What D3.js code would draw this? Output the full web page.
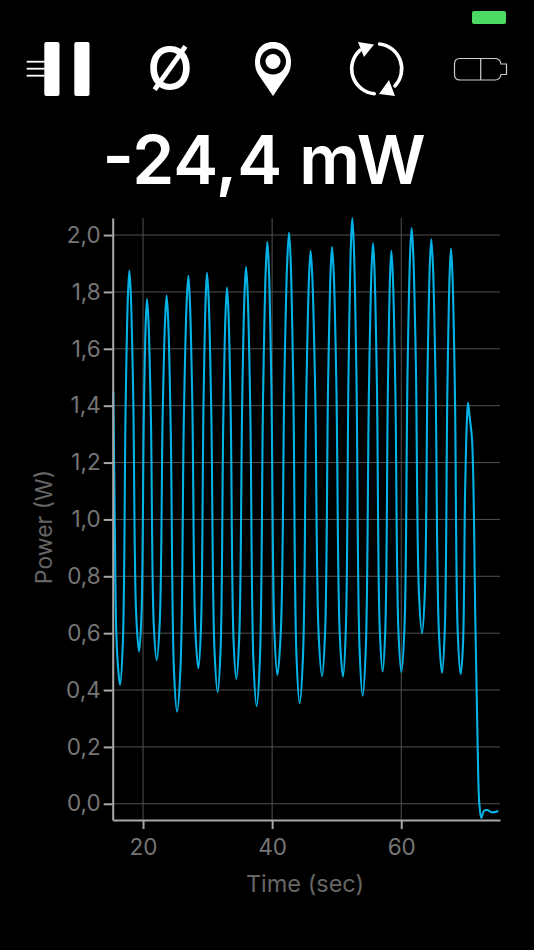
<!DOCTYPE html>
<html>
<head>
<meta charset="utf-8">
<script src="https://cdn.jsdelivr.net/npm/d3@7"></script>
<style>
  html, body { margin: 0; background: #000; overflow: hidden; }
  svg { display: block; font-family: Inter, Roboto, sans-serif; }
</style>
</head>
<body>
<svg id="chart" width="534" height="950"></svg>
<script>
// values
const readout = "-24,4 mW";
const xLabel = "Time (sec)";
const yLabel = "Power (W)";
const xTicks = [20, 40, 60];
const yTicks = [0, 0.2, 0.4, 0.6, 0.8, 1.0, 1.2, 1.4, 1.6, 1.8, 2.0];

const timeSec = [
  15.4, 15.62, 15.86, 16.2, 16.44, 16.87, 17.30, 17.66, 17.88, 18.10, 18.48, 18.93,
  19.38, 19.75, 20.12, 20.43, 20.62, 20.84, 21.22, 21.66, 22.11, 22.58, 23.04, 23.43,
  23.66, 23.90, 24.30, 24.79, 25.27, 25.80, 26.32, 26.76, 27.02, 27.25, 27.64, 28.10,
  28.57, 28.97, 29.37, 29.71, 29.91, 30.16, 30.57, 31.07, 31.56, 32.00, 32.43, 32.79,
  33.01, 33.23, 33.59, 34.02, 34.45, 34.90, 35.36, 35.73, 35.96, 36.21, 36.62, 37.11,
  37.60, 38.10, 38.60, 39.01, 39.26, 39.49, 39.88, 40.35, 40.81, 41.35, 41.90, 42.35,
  42.62, 42.87, 43.28, 43.77, 44.26, 44.77, 45.28, 45.71, 45.96, 46.22, 46.67, 47.20,
  47.73, 48.20, 48.66, 49.05, 49.28, 49.54, 49.96, 50.47, 50.98, 51.41, 51.84, 52.20,
  52.42, 52.66, 53.06, 53.54, 54.02, 54.50, 54.99, 55.39, 55.63, 55.85, 56.23, 56.67,
  57.12, 57.53, 57.93, 58.27, 58.47, 58.70, 59.09, 59.56, 60.02, 60.50, 60.97, 61.37,
  61.61, 61.85, 62.26, 62.74, 63.22, 63.65, 64.08, 64.44, 64.66, 64.91, 65.32, 65.82,
  66.32, 66.74, 67.15, 67.50, 67.71, 67.93, 68.31, 68.75, 69.20, 69.55, 69.89, 70.18,
  70.35, 70.60, 70.97, 71.48, 71.84, 72.10, 72.41, 72.80, 73.29, 74.07, 75.04
];

const powerW = [
  1.45, 1.00, 0.60, 0.46, 0.418, 0.564, 1.394, 1.788, 1.875, 1.795, 1.433, 0.669,
  0.535, 0.659, 1.366, 1.701, 1.775, 1.699, 1.356, 0.632, 0.505, 0.633, 1.364, 1.710,
  1.787, 1.699, 1.304, 0.470, 0.324, 0.477, 1.351, 1.765, 1.857, 1.774, 1.402, 0.615,
  0.477, 0.616, 1.408, 1.784, 1.867, 1.779, 1.381, 0.540, 0.393, 0.535, 1.346, 1.730,
  1.815, 1.732, 1.361, 0.577, 0.439, 0.584, 1.410, 1.801, 1.888, 1.795, 1.378, 0.498,
  0.344, 0.507, 1.437, 1.878, 1.976, 1.885, 1.473, 0.605, 0.453, 0.609, 1.496, 1.916,
  2.009, 1.910, 1.463, 0.520, 0.354, 0.513, 1.420, 1.850, 1.945, 1.855, 1.451, 0.599,
  0.449, 0.600, 1.461, 1.868, 1.959, 1.868, 1.460, 0.598, 0.447, 0.608, 1.528, 1.963,
  2.060, 1.959, 1.506, 0.548, 0.380, 0.539, 1.447, 1.876, 1.972, 1.882, 1.475, 0.616,
  0.465, 0.613, 1.457, 1.856, 1.945, 1.856, 1.456, 0.611, 0.463, 0.619, 1.510, 1.931,
  2.025, 1.940, 1.555, 0.743, 0.600, 0.739, 1.528, 1.902, 1.985, 1.894, 1.482, 0.613,
  0.460, 0.609, 1.460, 1.863, 1.953, 1.863, 1.459, 0.606, 0.456, 0.551, 1.095, 1.353,
  1.410, 1.360, 1.280, 0.645, 0.200, 0.000, -0.050, -0.025, -0.022, -0.030, -0.025
];

const svg = d3.select("#chart");

// scales
const xScale = d3.scaleLinear().domain([15.3, 75.3]).range([112.7, 500]);
const yScale = d3.scaleLinear().domain([-0.057, 2.06]).range([820, 218]);

const commaFormat = d => d3.format(".1f")(d).replace(".", ",");

// grid
svg.append("g").selectAll("line").data(yTicks).join("line")
    .attr("x1", xScale.range()[0]).attr("x2", xScale.range()[1])
    .attr("y1", d => yScale(d)).attr("y2", d => yScale(d))
    .attr("stroke", "#505050").attr("stroke-width", 1);

svg.append("g").selectAll("line").data(xTicks).join("line")
    .attr("x1", d => xScale(d)).attr("x2", d => xScale(d))
    .attr("y1", yScale.range()[0]).attr("y2", yScale.range()[1])
    .attr("stroke", "#505050").attr("stroke-width", 1);

// power trace
const line = d3.line()
    .x(d => xScale(d))
    .y((d, i) => yScale(powerW[i]))
    .curve(d3.curveCatmullRom.alpha(0.5));

svg.append("path")
    .datum(timeSec)
    .attr("d", line)
    .attr("fill", "none")
    .attr("stroke", "#05b2e6")
    .attr("stroke-width", 2.1)
    .attr("stroke-linejoin", "round");

// axes
const xAxis = svg.append("g")
    .attr("transform", "translate(0,820)")
    .call(d3.axisBottom(xScale).tickValues(xTicks).tickSize(9).tickPadding(10).tickSizeOuter(0));
const yAxis = svg.append("g")
    .attr("transform", "translate(112.7,0)")
    .call(d3.axisLeft(yScale).tickValues(yTicks).tickFormat(commaFormat).tickSize(9).tickPadding(3).tickSizeOuter(0));

[xAxis, yAxis].forEach(axis => {
  axis.selectAll("path, line").attr("stroke", "#a8a8a8").attr("stroke-width", 2);
  axis.selectAll("text").attr("fill", "#757575").attr("font-size", 22.5).attr("font-family", "Inter, Roboto, sans-serif");
});

// axis titles
svg.append("text").attr("x", 305).attr("y", 892).attr("text-anchor", "middle")
    .attr("fill", "#666").attr("font-size", 23.5).text(xLabel);
svg.append("text").attr("transform", "translate(52,527) rotate(-90)").attr("text-anchor", "middle")
    .attr("fill", "#666").attr("font-size", 23).text(yLabel);

// big readout
svg.append("text").attr("x", 264).attr("y", 184).attr("text-anchor", "middle")
    .attr("fill", "#fff").attr("font-size", 67.5).attr("font-weight", 600).text(readout);

// status bar battery
svg.append("rect").attr("x", 472).attr("y", 11).attr("width", 34).attr("height", 13).attr("rx", 2).attr("fill", "#4cd964");

// pause icon with speed lines
const icons = svg.append("g").attr("fill", "#fff");
icons.append("rect").attr("x", 44.3).attr("y", 42).attr("width", 15.2).attr("height", 54).attr("rx", 2);
icons.append("rect").attr("x", 74.3).attr("y", 42).attr("width", 15.2).attr("height", 54).attr("rx", 2);
[61.7, 68.7, 75.7].forEach(y => {
  icons.append("rect").attr("x", 26.7).attr("y", y - 0.9).attr("width", 18).attr("height", 1.8);
});

// empty set symbol
icons.append("text").attr("x", 170).attr("y", 89.5).attr("text-anchor", "middle")
    .attr("font-size", 60).attr("font-weight", 500).text("Ø");

// location pin
icons.append("path").attr("d", "M273 96 L258 74 C252 65 254 42 273 42 C292 42 294 65 288 74 Z");
svg.append("circle").attr("cx", 273).attr("cy", 61.5).attr("r", 13).attr("fill", "#000");
svg.append("circle").attr("cx", 273).attr("cy", 61.5).attr("r", 7.5).attr("fill", "#fff");

// refresh arrows
const refreshArc = d3.arc().innerRadius(23.2).outerRadius(26.8).cornerRadius(1.5);
const refresh = svg.append("g").attr("transform", "translate(376.7,68.8)").attr("fill", "#fff");
refresh.append("path").attr("d", refreshArc({startAngle: 0.05, endAngle: 2.39}));
refresh.append("path").attr("d", refreshArc({startAngle: Math.PI + 0.03, endAngle: 5.62}));
icons.append("path").attr("d", "M358 42 L374 44.5 L364 57 Z");
icons.append("path").attr("d", "M389 80 L379 94 L395 96 Z");

// battery icon
const batt = svg.append("g").attr("fill", "none").attr("stroke", "#cfcfcf").attr("stroke-width", 1.2);
batt.append("path").attr("d", "M460 58.5 H495 Q500 58.5 501 64 H506.5 V74.5 H501 Q500 80 495 80 H460 Q454.5 80 454.5 74.5 V64 Q454.5 58.5 460 58.5 Z");
batt.append("line").attr("x1", 480.7).attr("x2", 480.7).attr("y1", 58.5).attr("y2", 80);
</script>
</body>
</html>
